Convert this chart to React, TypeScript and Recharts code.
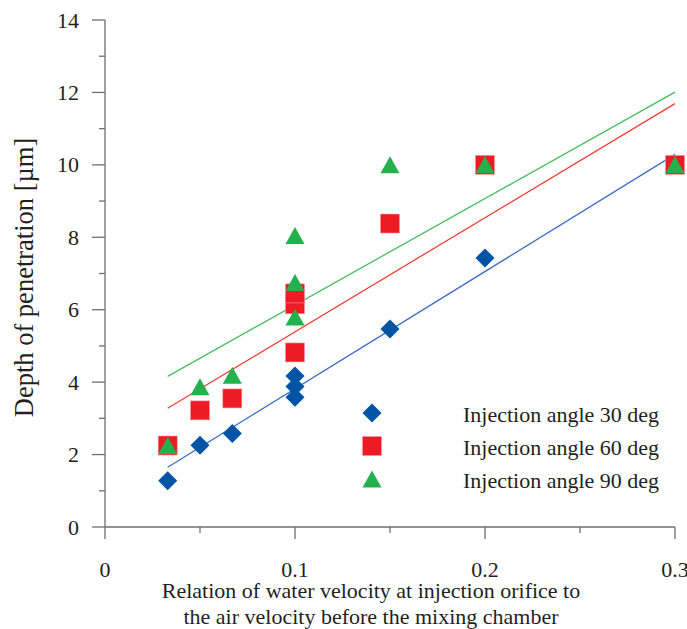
import React from 'react';
import { ScatterChart, Scatter, XAxis, YAxis, Legend } from 'recharts';

// ---- data ----
const xCats = [0.033, 0.05, 0.067, 0.1, 0.1, 0.1, 0.15, 0.2, 0.3];
const angle30 = [1.28, 2.26, 2.58, 4.17, 3.88, 3.58, 5.47, 7.43, 10.0];
const angle60 = [2.25, 3.22, 3.55, 4.82, 6.15, 6.45, 8.38, 10.0, 10.0];
const angle90 = [2.25, 3.87, 4.19, 5.8, 6.75, 8.05, 10.0, 10.0, 10.0];

const fitX = [0.033, 0.3];
const fit30 = [1.65, 10.29];
const fit60 = [3.28, 11.69];
const fit90 = [4.16, 12.01];

const xTicks = [0, 0.05, 0.1, 0.15, 0.2, 0.25, 0.3];
const yTicks = [0, 1, 2, 3, 4, 5, 6, 7, 8, 9, 10, 11, 12, 13, 14];

const seriesNames = ['Injection angle 30 deg', 'Injection angle 60 deg', 'Injection angle 90 deg'];

const xTitle1 = 'Relation of water velocity at injection orifice to';
const xTitle2 = 'the air velocity before the mixing chamber';
const yTitle = 'Depth of penetration [µm]';

// ---- styles ----
const FONT = 'Liberation Serif, Tinos, Times New Roman, Times, DejaVu Serif, serif';
const AXIS = '#6d6e71';
const TEXT = '#231f20';
const BLUE = '#0054a6';
const RED = '#ed1c24';
const GREEN = '#22b14c';
const BLUE_L = '#3d6fc4';
const RED_L = '#ef4136';
const GREEN_L = '#45bd5f';

const toPts = (xs: number[], ys: number[]) => xs.map((x, i) => ({ x, y: ys[i] }));

const d30 = toPts(xCats, angle30);
const d60 = toPts(xCats, angle60);
const d90 = toPts(xCats, angle90);
const l30 = toPts(fitX, fit30);
const l60 = toPts(fitX, fit60);
const l90 = toPts(fitX, fit90);

const Diamond = ({ cx, cy, fill }: any) => (
  <polygon
    points={`${cx},${cy - 9.5} ${cx + 9.5},${cy} ${cx},${cy + 9.5} ${cx - 9.5},${cy}`}
    fill={fill}
  />
);
const Square = ({ cx, cy, fill }: any) => (
  <rect x={cx - 9.5} y={cy - 9.5} width={19} height={19} fill={fill} stroke="#f59a9a" strokeWidth={0.6} />
);
const Triangle = ({ cx, cy, fill }: any) => (
  <polygon
    points={`${cx},${cy - 8.5} ${cx + 9.5},${cy + 8.5} ${cx - 9.5},${cy + 8.5}`}
    fill={fill}
  />
);
const NoShape = () => <g />;

const YTick = (props: any) => {
  const { x, y, payload } = props;
  const v = payload.value;
  const major = v % 2 === 0;
  return (
    <g>
      <line x1={x - (major ? 13 : 6)} x2={x} y1={y} y2={y} stroke={AXIS} strokeWidth={1.3} />
      {major && (
        <text x={x - 26} y={y + 7.5} textAnchor="end" fontFamily={FONT} fontSize={22} fill={TEXT}>
          {v}
        </text>
      )}
    </g>
  );
};

const XTick = (props: any) => {
  const { x, y, payload } = props;
  const v = payload.value;
  const major = Math.abs(v * 10 - Math.round(v * 10)) < 1e-6;
  return (
    <g>
      <line x1={x} x2={x} y1={y} y2={y + (major ? 12 : 6)} stroke={AXIS} strokeWidth={1.3} />
      {major && (
        <text x={x} y={y + 50} textAnchor="middle" fontFamily={FONT} fontSize={22} fill={TEXT}>
          {v === 0 ? '0' : v.toFixed(1)}
        </text>
      )}
    </g>
  );
};

const XLabel = (props: any) => {
  const { viewBox } = props;
  const cx = viewBox.x + viewBox.width / 2 - 19;
  return (
    <text textAnchor="middle" fontFamily={FONT} fontSize={22} fill={TEXT}>
      <tspan x={cx} y={viewBox.y + 71}>{xTitle1}</tspan>
      <tspan x={cx} y={viewBox.y + 97}>{xTitle2}</tspan>
    </text>
  );
};

const YLabel = (props: any) => {
  const { viewBox } = props;
  const cy = viewBox.y + viewBox.height / 2 + 4;
  const bx = 33;
  return (
    <text
      x={bx}
      y={cy}
      transform={`rotate(-90 ${bx} ${cy})`}
      textAnchor="middle"
      fontFamily={FONT}
      fontSize={26.5}
      fill={TEXT}
    >
      {yTitle}
    </text>
  );
};

const legendShapes = [Diamond, Square, Triangle];
const legendColors = [BLUE, RED, GREEN];

const LegendContent = () => (
  <svg width={330} height={100} style={{ display: 'block' }}>
    {seriesNames.map((name, i) => {
      const Shape = legendShapes[i];
      const cy = 18 + i * 33;
      return (
        <g key={name}>
          <Shape cx={17} cy={cy} fill={legendColors[i]} />
          <text x={108} y={cy + 9} fontFamily={FONT} fontSize={22} fill={TEXT}>
            {name}
          </text>
        </g>
      );
    })}
  </svg>
);

export default function App() {
  return (
    <div style={{ position: 'absolute', left: 0, top: 0, width: 687, height: 629, background: '#fff', fontFamily: FONT }}>
      <ScatterChart width={687} height={629} margin={{ top: 20, right: 12, bottom: 0, left: 0 }}>
        <XAxis
          type="number"
          dataKey="x"
          domain={[0, 0.3]}
          ticks={xTicks}
          interval={0}
          height={102}
          tickSize={0}
          tickMargin={0}
          tickLine={false}
          axisLine={{ stroke: AXIS, strokeWidth: 1.3 }}
          tick={<XTick />}
          label={<XLabel />}
        />
        <YAxis
          type="number"
          dataKey="y"
          domain={[0, 14]}
          ticks={yTicks}
          interval={0}
          width={105}
          tickSize={0}
          tickMargin={0}
          tickLine={false}
          axisLine={{ stroke: AXIS, strokeWidth: 1.3 }}
          tick={<YTick />}
          label={<YLabel />}
        />
        <Legend
          layout="vertical"
          align="center"
          verticalAlign="middle"
          content={<LegendContent />}
          wrapperStyle={{ left: 355, top: 395, width: 330, height: 100 }}
        />
        <Scatter name="fit30" data={l30} line={{ stroke: BLUE_L, strokeWidth: 1.3 }} shape={<NoShape />} isAnimationActive={false} legendType="none" />
        <Scatter name="fit60" data={l60} line={{ stroke: RED_L, strokeWidth: 1.3 }} shape={<NoShape />} isAnimationActive={false} legendType="none" />
        <Scatter name="fit90" data={l90} line={{ stroke: GREEN_L, strokeWidth: 1.3 }} shape={<NoShape />} isAnimationActive={false} legendType="none" />
        <Scatter name={seriesNames[0]} data={d30} fill={BLUE} shape={<Diamond />} isAnimationActive={false} />
        <Scatter name={seriesNames[1]} data={d60} fill={RED} shape={<Square />} isAnimationActive={false} />
        <Scatter name={seriesNames[2]} data={d90} fill={GREEN} shape={<Triangle />} isAnimationActive={false} />
      </ScatterChart>
    </div>
  );
}
